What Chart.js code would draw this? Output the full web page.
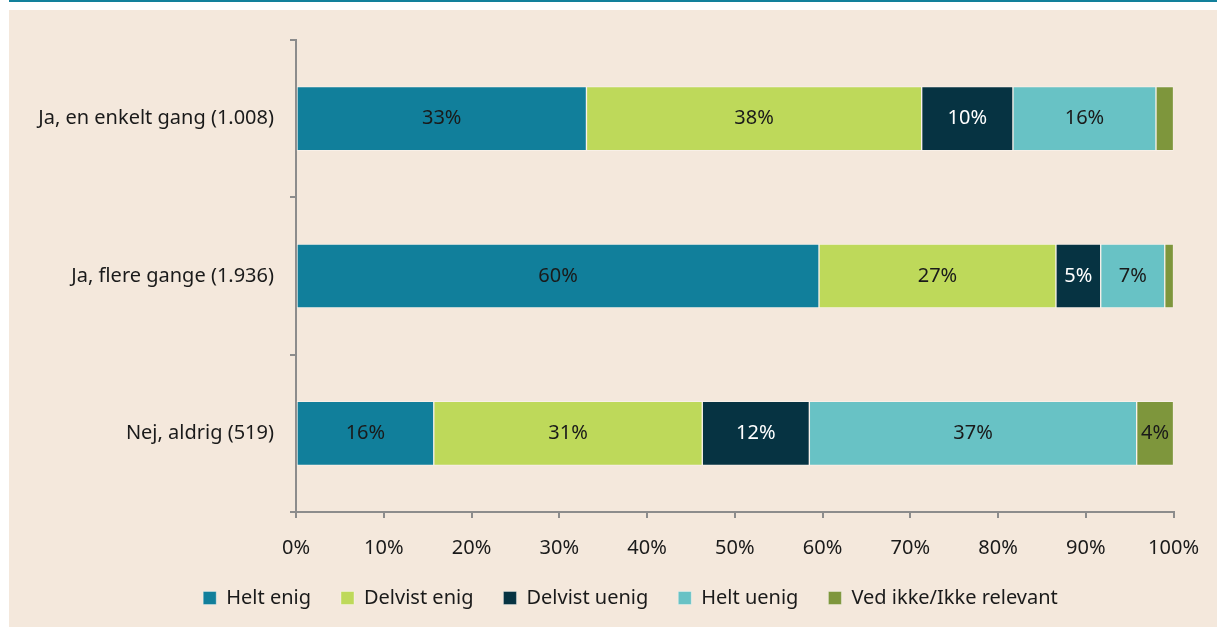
<!DOCTYPE html>
<html>
<head>
<meta charset="utf-8">
<script src="https://cdn.jsdelivr.net/npm/chart.js@4/dist/chart.umd.min.js"></script>
<style>
  html, body { margin: 0; padding: 0; background: #fff; }
  body { width: 1217px; height: 627px; position: relative; overflow: hidden; }
  .topline { position: absolute; left: 9px; top: 0; width: 1208px; height: 2px; background: #12809b; }
  .panel { position: absolute; left: 9px; top: 10px; width: 1208px; height: 617px; background: #f4e8dc; }
</style>
</head>
<body>
<div class="topline"></div>
<div class="panel"><canvas id="chart" width="1208" height="617"></canvas></div>
<script>
var categories = ['Ja, en enkelt gang (1.008)', 'Ja, flere gange (1.936)', 'Nej, aldrig (519)'];
var seriesNames = ['Helt enig', 'Delvist enig', 'Delvist uenig', 'Helt uenig', 'Ved ikke/Ikke relevant'];
var heltEnig = [33.1, 59.6, 15.7];
var delvistEnig = [38.2, 27.0, 30.6];
var delvistUenig = [10.4, 5.1, 12.2];
var heltUenig = [16.3, 7.3, 37.3];
var vedIkke = [2.0, 1.0, 4.2];
var colors = ['#117f9b', '#bed95a', '#063342', '#68c2c5', '#7e963c'];
var labelColors = ['#1a1a1a', '#1a1a1a', '#ffffff', '#1a1a1a', '#1a1a1a'];

var FONT = '"Noto Sans", "Open Sans", sans-serif';
var FS = 20;

// percent labels inside the segments
var barLabels = {
  id: 'barLabels',
  afterLayout: function (chart) {
    // legend sits a bit right of centre in the original
    chart.legend.left += 37;
    chart.legend.right += 37;
  },
  afterDatasetsDraw: function (chart) {
    var ctx = chart.ctx;
    ctx.save();
    ctx.font = FS + 'px ' + FONT;
    ctx.textAlign = 'center';
    ctx.textBaseline = 'middle';
    chart.data.datasets.forEach(function (ds, i) {
      var meta = chart.getDatasetMeta(i);
      meta.data.forEach(function (bar, j) {
        var v = ds.data[j];
        if (v < 3.5) return;
        ctx.fillStyle = labelColors[i];
        ctx.fillText(Math.round(v) + '%', (bar.x + bar.base) / 2, bar.y);
      });
    });
    ctx.restore();
  }
};

var allData = [heltEnig, delvistEnig, delvistUenig, heltUenig, vedIkke];
var datasets = seriesNames.map(function (name, i) {
  return {
    label: name,
    data: allData[i],
    backgroundColor: colors[i],
    borderColor: 'rgba(255,255,255,0.35)',
    borderWidth: 1,
    borderSkipped: false,
    barThickness: 64
  };
});

new Chart(document.getElementById('chart'), {
  type: 'bar',
  data: { labels: categories, datasets: datasets },
  plugins: [barLabels],
  options: {
    indexAxis: 'y',
    responsive: false,
    animation: false,
    layout: { padding: { top: 30, right: 39, bottom: 9, left: 0 } },
    plugins: {
      legend: {
        position: 'bottom',
        labels: {
          boxWidth: 13, boxHeight: 13, padding: 30,
          color: '#1a1a1a',
          font: { family: FONT, size: FS }
        }
      },
      tooltip: { enabled: false }
    },
    scales: {
      x: {
        stacked: true,
        min: 0, max: 100,
        ticks: { stepSize: 10, color: '#1a1a1a', padding: 18, font: { family: FONT, size: FS },
                 callback: function (v) { return v + '%'; } },
        grid: { drawOnChartArea: false, tickLength: 6, tickColor: '#8c8c8c', lineWidth: 2 },
        border: { color: '#8c8c8c', width: 2 },
        afterFit: function (s) { s.height = 46; }
      },
      y: {
        stacked: true,
        ticks: { color: '#1a1a1a', padding: 16, font: { family: FONT, size: FS } },
        grid: { drawOnChartArea: false, offset: true, tickLength: 6, tickColor: '#8c8c8c', lineWidth: 2 },
        border: { color: '#8c8c8c', width: 2 },
        afterFit: function (s) { s.width = 287; }
      }
    }
  }
});
</script>
</body>
</html>
